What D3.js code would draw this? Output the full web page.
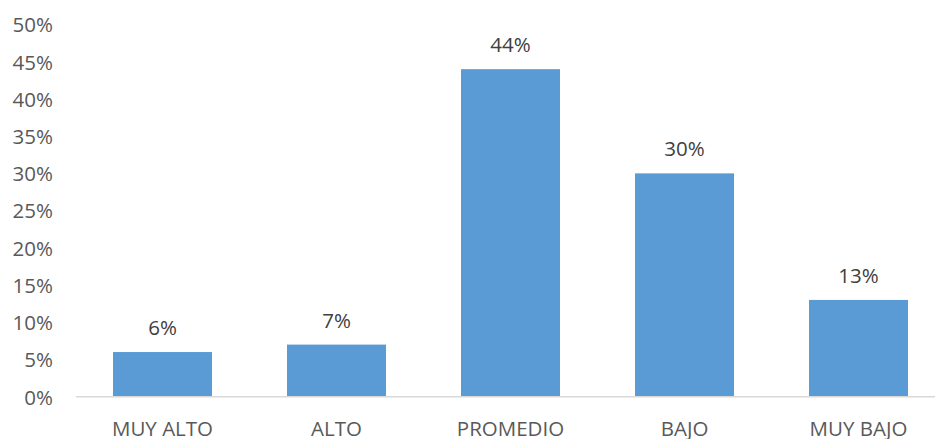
<!DOCTYPE html>
<html><head><meta charset="utf-8">
<script src="https://cdn.jsdelivr.net/npm/d3@7"></script>
<style>body{margin:0;background:#fff}svg{display:block}text{font-family:"Open Sans",sans-serif}</style>
</head><body><svg id="c" width="935" height="439"></svg>
<script>
const categories = ["MUY ALTO","ALTO","PROMEDIO","BAJO","MUY BAJO"];
const values = [6,7,44,30,13];
const yTicks = [0,5,10,15,20,25,30,35,40,45,50];

const svg = d3.select("#c");
const x = d3.scaleBand().domain(categories).range([75.5, 945.5]).paddingInner(0.431).paddingOuter(0.2155);
const y = d3.scaleLinear().domain([0,50]).range([396.7, 24.5]);
const color = "#5B9BD5", textColor = "#595959", fs = "20.5px";

// y axis labels
const ya = svg.append("g").attr("transform","translate(53,0)")
  .call(d3.axisLeft(y).tickValues(yTicks).tickFormat(d=>d+"%").tickSize(0).tickPadding(0));
ya.select(".domain").remove();
ya.selectAll("text").attr("fill",textColor).style("font-size",fs).style("font-family","'Open Sans',sans-serif").attr("dy","0.36em");

// bars
svg.selectAll("rect.bar").data(values).enter().append("rect")
  .attr("x",(d,i)=>x(categories[i])).attr("width",x.bandwidth())
  .attr("y",d=>y(d)).attr("height",d=>y(0)-y(d)).attr("fill",color);

// x axis
const xa = svg.append("g").attr("transform",`translate(0,${y(0)})`)
  .call(d3.axisBottom(x).tickSize(0).tickPadding(0));
xa.select(".domain").attr("stroke","#D9D9D9").attr("stroke-width",1.5).attr("d","M76,0H935");
xa.selectAll("text").attr("fill",textColor).style("font-size",fs).style("font-family","'Open Sans',sans-serif").attr("y",39).attr("dy",0);

// value labels
svg.selectAll("text.val").data(values).enter().append("text").attr("class","val")
  .attr("x",(d,i)=>x(categories[i])+x.bandwidth()/2).attr("y",d=>y(d)-17)
  .attr("text-anchor","middle").attr("fill","#404040").style("font-size",fs).text(d=>d+"%");
</script></body></html>
